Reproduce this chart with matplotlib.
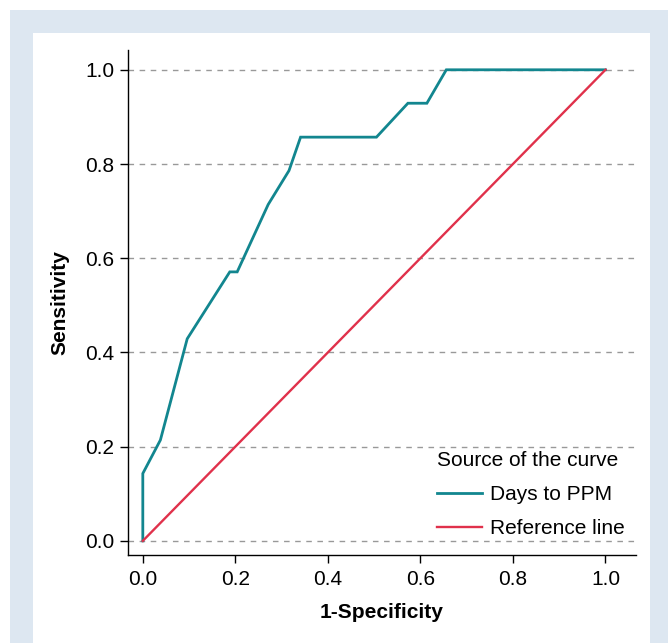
import matplotlib
matplotlib.use("Agg")
import matplotlib.pyplot as plt
from matplotlib.patches import Rectangle

plt.rcParams['font.family'] = ['Liberation Sans', 'DejaVu Sans']

# ROC curve data (1-Specificity, Sensitivity)
fpr = [0.0, 0.0, 0.038, 0.096, 0.188, 0.204, 0.271, 0.316, 0.341, 0.505, 0.573, 0.614, 0.656, 1.0]
tpr = [0.0, 0.143, 0.214, 0.429, 0.571, 0.571, 0.714, 0.786, 0.857, 0.857, 0.929, 0.929, 1.0, 1.0]
ref_x = [0.0, 1.0]
ref_y = [0.0, 1.0]
ticks = [0.0, 0.2, 0.4, 0.6, 0.8, 1.0]
tick_labels = ["0.0", "0.2", "0.4", "0.6", "0.8", "1.0"]

W, H = 668, 643
fig = plt.figure(figsize=(W / 100, H / 100), dpi=100)

# background panels
fig.patches.append(Rectangle((10 / W, 0), 1 - 10 / W, 1 - 10 / H, transform=fig.transFigure,
                             facecolor="#dde7f1", edgecolor="none", zorder=-10))
fig.patches.append(Rectangle((33 / W, 0), (650 - 33) / W, 1 - 33 / H, transform=fig.transFigure,
                             facecolor="white", edgecolor="none", zorder=-9))

ax = fig.add_axes([128 / W, 1 - 555 / H, (636 - 128) / W, (555 - 50) / H])
ax.set_facecolor("none")

ax.plot(fpr, tpr, color="#12868f", lw=2.0, label="Days to PPM", zorder=3, solid_joinstyle="miter")
ax.plot(ref_x, ref_y, color="#e0314b", lw=1.7, label="Reference line", zorder=3)

ax.set_xlim(-0.032, 1.066)
ax.set_ylim(-0.030, 1.042)
ax.set_xticks(ticks)
ax.set_xticklabels(tick_labels)
ax.set_yticks(ticks)
ax.set_yticklabels(tick_labels)

for y in ticks:
    ax.axhline(y, color="#999999", lw=1.0, ls=(0, (4, 4)), zorder=1)

for s in ["top", "right"]:
    ax.spines[s].set_visible(False)
for s in ["left", "bottom"]:
    ax.spines[s].set_linewidth(1.0)
    ax.spines[s].set_color("black")

ax.tick_params(axis="both", direction="out", length=6, width=1, labelsize=15, pad=4, colors="black")
ax.tick_params(axis="x", pad=5)

ax.set_xlabel("1-Specificity", fontsize=15, fontweight="bold", labelpad=10)
ax.set_ylabel("Sensitivity", fontsize=15, fontweight="bold", labelpad=11)

leg = ax.legend(title="Source of the curve", loc="lower right", bbox_to_anchor=(1.01, 0.0),
                frameon=False, fontsize=15, title_fontsize=15, labelspacing=0.72,
                handlelength=2.2, handletextpad=0.35, alignment="left", borderpad=0.3)

fig.savefig("out.png", dpi=100)
